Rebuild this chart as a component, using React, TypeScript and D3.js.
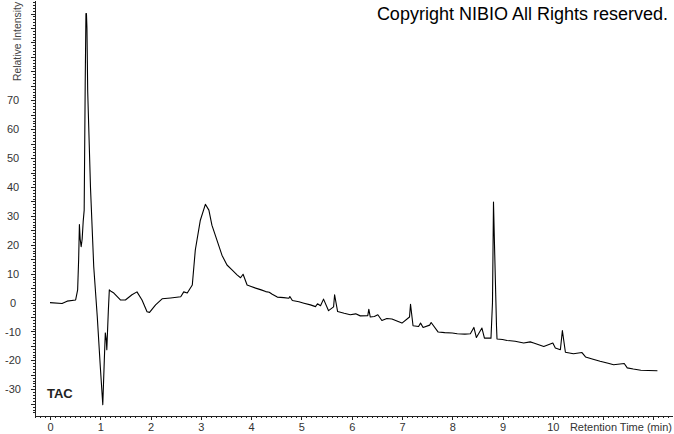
import React, { useEffect, useRef } from "react";
import * as d3 from "d3";

// retention time (min) and relative intensity
const times = [
  0, 0.24, 0.34, 0.51, 0.55, 0.57, 0.585, 0.6, 0.62, 0.64, 0.66, 0.68, 0.7, 0.715, 0.725, 0.735,
  0.75, 0.805, 0.87, 0.94, 1.0, 1.05, 1.08, 1.1, 1.12, 1.13, 1.16, 1.18, 1.22, 1.27, 1.4, 1.5,
  1.63, 1.73, 1.83, 1.93, 1.98, 2.1, 2.23, 2.4, 2.6, 2.66, 2.73, 2.83, 2.89, 2.99, 3.09,
  3.16, 3.22, 3.32, 3.42, 3.52, 3.62, 3.72, 3.79, 3.84, 3.92, 4.0, 4.09, 4.2, 4.29, 4.36, 4.42,
  4.52, 4.65, 4.75, 4.77, 4.82, 4.95, 5.05, 5.18, 5.28, 5.32, 5.38, 5.44, 5.54, 5.64, 5.66,
  5.72, 5.85, 5.97, 6.08, 6.17, 6.32, 6.34, 6.37, 6.45, 6.52, 6.6, 6.7, 6.8, 6.9, 7.0, 7.15,
  7.17, 7.22, 7.33, 7.37, 7.42, 7.55, 7.58, 7.72, 7.85, 8.0, 8.1, 8.25, 8.36, 8.43, 8.48, 8.59,
  8.64, 8.77, 8.8, 8.82, 8.84, 8.88, 8.89, 9.0, 9.09, 9.25, 9.42, 9.55, 9.62, 9.72, 9.82, 10.0,
  10.05, 10.15, 10.19, 10.25, 10.41, 10.58, 10.65, 10.8, 10.94, 11.1, 11.21, 11.42, 11.48, 11.6,
  11.75, 11.9, 12.08,
];
const intensity = [
  0, -0.3, 0.5, 0.9, 4.4, 15, 27, 22, 19.3, 22, 28, 32, 75, 100, 100, 95,
  73, 40, 12.4, -4.8, -22, -35.3, -20, -10.5, -13, -16.3, -3, 4.4, 3.8, 3.3, 0.9, 0.9,
  2.7, 3.7, 0.9, -3.2, -3.4, -0.8, 1.3, 1.6, 2, 3.7, 3.3, 6.1, 18.2, 28.5, 34,
  32, 26.8, 21.6, 16.4, 13, 11.3, 9.6, 8.6, 9.8, 6.1, 5.6, 5, 4.4, 3.8, 3.6, 2.9,
  1.9, 1.7, 1.5, 2.1, 0.7, 0.3, -0.2, -0.8, -1.4, -0.4, -1.1, 1.2, -2.8, -1.5, 2.7,
  -3.1, -3.7, -4.2, -3.9, -4.6, -4.5, -2.3, -5, -4.8, -4.2, -6.2, -5.5, -5.7, -6.4, -7.1, -5,
  -0.6, -8, -8.3, -7.1, -8.6, -7.8, -6.9, -10.2, -10.4, -10.5, -10.8, -10.9, -10.8, -8.6, -12.1, -8.8,
  -12.3, -12.3, 0, 34.8, 20, -8.3, -12.6, -12.8, -13.1, -13.4, -14, -13.6, -14, -14.6, -15.2, -14,
  -15.7, -16.3, -9.7, -17.2, -17.7, -17.3, -18.8, -19.6, -20.3, -21, -21.5, -21.1, -22.6, -23,
  -23.4, -23.5, -23.6,
];

const xLabels = [0, 1, 2, 3, 4, 5, 6, 7, 8, 9, 10];
const yLabels = [-30, -20, -10, 0, 10, 20, 30, 40, 50, 60, 70];

const W = 674;
const H = 434;
const FONT = "'Liberation Sans', Arial, sans-serif";

export default function App() {
  const ref = useRef<SVGSVGElement>(null);

  useEffect(() => {
    const svg = d3.select(ref.current);
    svg.selectAll("*").remove();

    const x = d3.scaleLinear().domain([-0.318, 12.37]).range([34, 672]);
    const y = d3.scaleLinear().domain([-38.9, 104.7]).range([415, 0]);

    const axisStyle = (g: any) => {
      g.attr("font-family", FONT).attr("font-size", 11);
      g.selectAll("line").attr("stroke", "#222");
      g.selectAll("path").attr("stroke", "#222");
      g.selectAll("text").attr("fill", "#333");
    };

    // x axis: minor every 0.1 min, major every minute
    svg.append("g")
      .attr("transform", "translate(0,415.5)")
      .attr("shape-rendering", "crispEdges")
      .call(d3.axisBottom(x).tickValues(d3.range(-3, 124).map(d => d / 10)).tickSize(2).tickSizeOuter(0).tickFormat(() => ""))
      .call(axisStyle);

    svg.append("g")
      .attr("transform", "translate(0,415.5)")
      .attr("shape-rendering", "crispEdges")
      .call(d3.axisBottom(x).tickValues(d3.range(0, 13)).tickSize(4).tickSizeOuter(0).tickPadding(4)
        .tickFormat((d: any) => (xLabels.includes(d) ? String(d) : "")))
      .call(axisStyle)
      .call((g: any) => g.select(".domain").remove());

    // y axis: minor every unit, medium every 5, labels every 10
    svg.append("g")
      .attr("transform", "translate(34.5,0)")
      .attr("shape-rendering", "crispEdges")
      .call(d3.axisLeft(y).tickValues(d3.range(-38, 105)).tickSize(2).tickSizeOuter(0).tickFormat(() => ""))
      .call(axisStyle);

    svg.append("g")
      .attr("transform", "translate(34.5,0)")
      .attr("shape-rendering", "crispEdges")
      .call(d3.axisLeft(y).tickValues(d3.range(-35, 105, 5)).tickSize(4).tickSizeOuter(0)
        .tickFormat((d: any) => (yLabels.includes(d) ? String(d) : "")))
      .call(axisStyle)
      .call((g: any) => g.select(".domain").remove())
      .call((g: any) => g.selectAll("text").attr("text-anchor", "middle").attr("x", -21.5));

    // y axis title
    svg.append("text")
      .attr("transform", "translate(21,81) rotate(-90)")
      .attr("font-family", FONT)
      .attr("font-size", 10.4)
      .attr("fill", "#444")
      .text("Relative Intensity");

    svg.append("text")
      .attr("x", 672)
      .attr("y", 431)
      .attr("text-anchor", "end")
      .attr("font-family", FONT)
      .attr("font-size", 11)
      .attr("fill", "#333")
      .text("Retention Time (min)");

    const data = times.map((t, i) => ({ t, v: intensity[i] }));

    const line = d3.line<{ t: number; v: number }>()
      .x(d => x(d.t))
      .y(d => y(d.v));

    svg.append("path")
      .datum(data)
      .attr("fill", "none")
      .attr("stroke", "#000")
      .attr("stroke-width", 1.1)
      .attr("stroke-linejoin", "round")
      .attr("d", line);

    svg.append("text")
      .attr("x", 47)
      .attr("y", 398)
      .attr("font-family", FONT)
      .attr("font-size", 13)
      .attr("font-weight", "bold")
      .attr("fill", "#222")
      .text("TAC");

    svg.append("text")
      .attr("x", 668)
      .attr("y", 20)
      .attr("text-anchor", "end")
      .attr("font-family", FONT)
      .attr("font-size", 18)
      .attr("fill", "#000")
      .text("Copyright NIBIO All Rights reserved.");
  }, []);

  return (
    <div style={{ position: "absolute", left: 0, top: 0, width: W, height: H, background: "#fff" }}>
      <svg ref={ref} width={W} height={H} style={{ display: "block" }} />
    </div>
  );
}
